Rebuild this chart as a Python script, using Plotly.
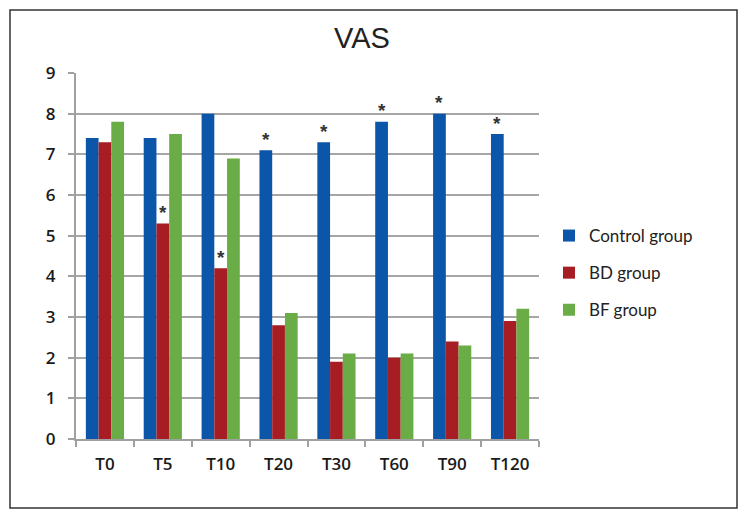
import plotly.graph_objects as go

categories = ["T0", "T5", "T10", "T20", "T30", "T60", "T90", "T120"]
control = [7.4, 7.4, 8.0, 7.1, 7.3, 7.8, 8.0, 7.5]
bd = [7.3, 5.3, 4.2, 2.8, 1.9, 2.0, 2.4, 2.9]
bf = [7.8, 7.5, 6.9, 3.1, 2.1, 2.1, 2.3, 3.2]
star_control = ["T20", "T30", "T60", "T90", "T120"]
star_bd = ["T5", "T10"]

colors = {"Control group": "#0B56A8", "BD group": "#A61D24", "BF group": "#6AAC46"}

fig = go.Figure()
for name, vals in [("Control group", control), ("BD group", bd), ("BF group", bf)]:
    fig.add_trace(go.Bar(x=categories, y=vals, name=name, marker_color=colors[name],
                         marker_line_width=0, legendgroup=name))

# page body has an 8px margin; compensate
OFF = 8
W, H = 748 - OFF, 520 - OFF
L = 76 - OFF
R = W - (539 - OFF)
T = 73 - OFF
B = H - (439 - OFF)
pw = W - L - R
ph = H - T - B
bargap = 0.34
bar_w = pw / len(categories) * (1 - bargap) / 3

annotations = []
for c in star_control:
    i = categories.index(c)
    annotations.append(dict(x=c, y=control[i], xref="x", yref="y", text="<b>*</b>", showarrow=False,
                            xshift=-bar_w, yshift=11, font=dict(size=19, color="#333333",
                                                                family="Liberation Sans")))
for c in star_bd:
    i = categories.index(c)
    annotations.append(dict(x=c, y=bd[i], xref="x", yref="y", text="<b>*</b>", showarrow=False,
                            xshift=0, yshift=11, font=dict(size=19, color="#333333",
                                                           family="Liberation Sans")))

def px_x(p):
    return (p - OFF - L) / pw

def px_y(p):
    return (H - (p - OFF) - B) / ph

fig.add_shape(type="rect", xref="paper", yref="paper",
              x0=px_x(10), x1=px_x(737), y0=px_y(508), y1=px_y(10),
              line=dict(color="#333333", width=1.5), fillcolor="rgba(0,0,0,0)", layer="below")

fig.update_layout(
    width=W, height=H,
    margin=dict(l=L, r=R, t=T, b=B),
    paper_bgcolor="white", plot_bgcolor="white",
    barmode="group", bargap=bargap, bargroupgap=0,
    title=dict(text="VAS", x=(362 - OFF) / W, xanchor="center", y=1 - (38 - OFF) / H, yanchor="middle",
               font=dict(family="Liberation Sans Narrow, Arial Narrow, Liberation Sans", size=29,
                         color="#222222")),
    font=dict(family="Open Sans, Liberation Sans", color="#222222"),
    legend=dict(x=px_x(549), y=px_y(218), xanchor="left", yanchor="top",
                font=dict(size=17, family="Lato, Open Sans", color="#222222"),
                traceorder="grouped", tracegroupgap=12, itemwidth=30,
                bgcolor="rgba(0,0,0,0)"),
    annotations=annotations,
    showlegend=True,
)
tickfont = dict(size=17, family="Open Sans", color="#1a1a1a", weight=600)
fig.update_xaxes(showline=True, linecolor="#A0A0A0", linewidth=2, ticks="outside", tickson="boundaries",
                 ticklen=6, tickcolor="#A0A0A0", tickwidth=1.5, ticklabelstandoff=9,
                 tickfont=tickfont, showgrid=False)
fig.update_yaxes(range=[0, 9], dtick=1, showline=True, linecolor="#A0A0A0", linewidth=2,
                 ticks="outside", ticklen=6, tickcolor="#A0A0A0", tickwidth=1.5, ticklabelstandoff=9,
                 showgrid=True, gridcolor="#A6A6A6", gridwidth=2,
                 tickfont=tickfont, zeroline=False)

fig.write_html("out.html")
